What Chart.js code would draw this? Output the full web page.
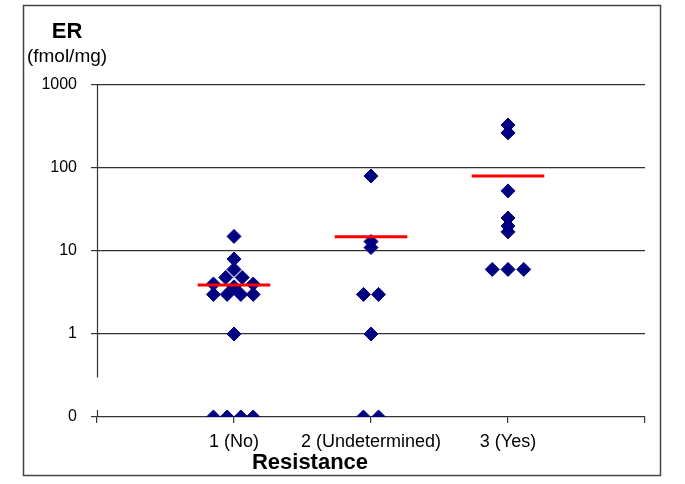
<!DOCTYPE html>
<html>
<head>
<meta charset="utf-8">
<script src="https://cdn.jsdelivr.net/npm/chart.js@4/dist/chart.umd.min.js"></script>
<style>
  html, body { margin: 0; padding: 0; background: #fff; }
  #wrap { width: 685px; height: 484px; }
</style>
</head>
<body>
<div id="wrap"><canvas id="erChart"></canvas></div>
<script>
// groups on the x axis
const categories = ['1 (No)', '2 (Undetermined)', '3 (Yes)'];
const yTicks = [0.1, 1, 10, 100, 1000];   // 0.1 is where 0 is shown

// ER (fmol/mg) per patient and its x position in the group
const erNo = [15, 8, 6, 4.8, 4.8, 3.7, 4, 4, 3, 3, 3, 3, 1, 0, 0, 0, 0];
const xNo  = [1, 1, 1, 0.94, 1.06, 1, 0.85, 1.14, 0.85, 0.95, 1.05, 1.14, 1, 0.85, 0.95, 1.05, 1.14];

const erUnd = [80, 13, 11, 3, 3, 1, 0, 0];
const xUnd  = [2, 2, 2, 1.945, 2.055, 2, 1.945, 2.055];

const erYes = [330, 265, 53, 25, 20, 17, 6, 6, 6];
const xYes  = [3, 3, 3, 3, 3, 3, 2.885, 3, 3.115];

// group means (red bars)
const means = [3.9, 14.8, 80];

const ZERO_AT = 0.1;
const MEAN_HALF = 0.265;

const toPoints = (xs, ys) => ys.map((v, i) => ({ x: xs[i], y: v === 0 ? ZERO_AT : v }));

const pointSet = (xs, ys) => ({
    type: 'scatter',
    data: toPoints(xs, ys),
    pointStyle: 'rectRot',
    pointRadius: 7,
    pointBackgroundColor: '#000080',
    pointBorderColor: '#000080',
    pointBorderWidth: 1,
    order: 2
});

const meanSets = means.map((m, i) => ({
    type: 'line',
    data: [{ x: i + 1 - MEAN_HALF, y: m }, { x: i + 1 + MEAN_HALF, y: m }],
    borderColor: '#ff0000',
    borderWidth: 3,
    pointRadius: 0,
    order: 0
}));

const AXIS = '#333';
const FONT = '"Liberation Sans", Arial, sans-serif';

const decor = {
    id: 'decor',
    afterDraw(chart) {
        const c = chart.ctx;
        const y = chart.scales.y;
        const left = chart.chartArea.left;
        c.save();
        // y axis with a break above the zero line
        c.strokeStyle = AXIS;
        c.lineWidth = 1.2;
        c.beginPath();
        c.moveTo(left + 0.5, chart.chartArea.top);
        c.lineTo(left + 0.5, y.getPixelForValue(0.3));
        c.moveTo(left + 0.5, chart.chartArea.bottom - 7);
        c.lineTo(left + 0.5, chart.chartArea.bottom);
        c.stroke();

        // frame
        c.strokeStyle = '#444';
        c.lineWidth = 1.5;
        c.strokeRect(23.5, 5.5, 637, 470);

        // axis titles
        c.fillStyle = '#000';
        c.textAlign = 'center';
        c.textBaseline = 'middle';
        c.font = 'bold 22px ' + FONT;
        c.fillText('ER', 67, 32);
        c.fillText('Resistance', 310, 463);
        c.font = '19px ' + FONT;
        c.fillText('(fmol/mg)', 67, 57);
        c.restore();
    }
};

new Chart(document.getElementById('erChart').getContext('2d'), {
    data: {
        datasets: [...meanSets, pointSet(xNo, erNo), pointSet(xUnd, erUnd), pointSet(xYes, erYes)]
    },
    options: {
        responsive: true,
        maintainAspectRatio: false,
        animation: false,
        layout: { padding: { top: 85, right: 40, left: 0, bottom: 0 } },
        plugins: {
            legend: { display: false },
            tooltip: { enabled: false }
        },
        scales: {
            x: {
                type: 'linear',
                min: 0,
                max: 4,
                afterFit: s => { s.height = 67; },
                ticks: {
                    stepSize: 1,
                    autoSkip: false,
                    maxRotation: 0,
                    padding: 8,
                    color: '#000',
                    font: { family: FONT, size: 18 },
                    callback: v => categories[v - 1] || ''
                },
                grid: { drawOnChartArea: false, drawTicks: true, tickLength: 6, tickColor: AXIS, lineWidth: 1.2 },
                border: { display: true, color: AXIS, width: 1.2 }
            },
            y: {
                type: 'logarithmic',
                min: 0.1,
                max: 1000,
                afterFit: s => { s.width = 97; },
                afterBuildTicks: s => { s.ticks = yTicks.map(v => ({ value: v })); },
                ticks: {
                    padding: 14,
                    color: '#000',
                    font: { family: FONT, size: 16 },
                    callback: v => v === ZERO_AT ? '0' : String(v)
                },
                grid: {
                    color: ctx => (ctx.tick && ctx.tick.value === ZERO_AT) ? 'rgba(0,0,0,0)' : AXIS,
                    tickColor: AXIS,
                    tickLength: 6,
                    lineWidth: 1.2
                },
                border: { display: false }
            }
        }
    },
    plugins: [decor]
});
</script>
</body>
</html>
